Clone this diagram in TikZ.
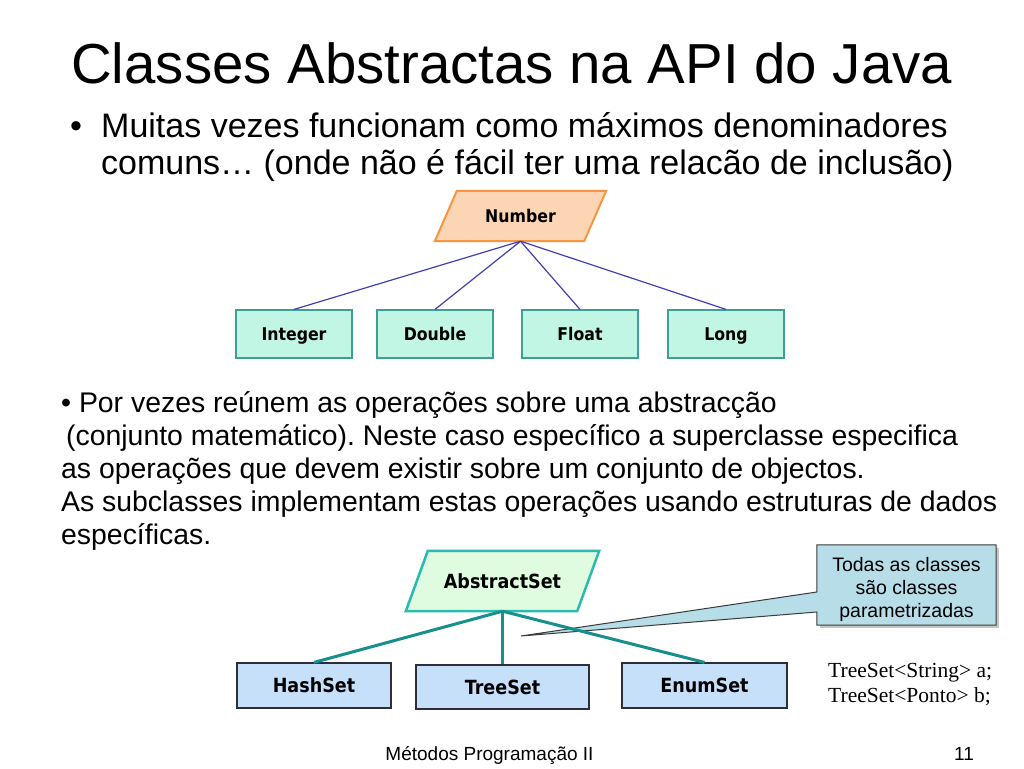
\documentclass[tikz,border=0pt]{standalone}
\usepackage{fontspec}
\setmainfont{Liberation Sans}
\newfontfamily\seriffont{Liberation Serif}
\newfontfamily\labfont{DejaVu Sans}[FakeStretch=0.9]
\usetikzlibrary{backgrounds,calc}
\definecolor{numfill}{HTML}{FCD5B4}
\definecolor{numdraw}{HTML}{F7963E}
\definecolor{topfill}{HTML}{C0F6E3}
\definecolor{topdraw}{HTML}{3CA096}
\definecolor{blueline}{HTML}{4040B4}
\definecolor{absfill}{HTML}{E0FCE0}
\definecolor{absdraw}{HTML}{2ABAB0}
\definecolor{tealline}{HTML}{178F8D}
\definecolor{botfill}{HTML}{C6E0FA}
\definecolor{botdraw}{HTML}{2E2E3A}
\definecolor{callfill}{HTML}{B7DDE8}
\definecolor{calldraw}{HTML}{3A3A3A}
\frenchspacing
\begin{document}
\begin{tikzpicture}[x=1pt,y=-1pt,
  txt/.style={inner sep=0pt, anchor=base west},
  ctxt/.style={inner sep=0pt, anchor=base},
  toplab/.style={font=\labfont\bfseries\fontsize{17.5}{20}\selectfont, text height=12.5pt, text depth=0pt},
  botlab/.style={font=\labfont\bfseries\fontsize{19.5}{22}\selectfont, text height=14pt, text depth=0pt},
  topbox/.style={draw=topdraw, fill=topfill, line width=1.2pt, minimum width=116pt, minimum height=48pt, inner sep=0pt, toplab},
  botbox/.style={draw=botdraw, fill=botfill, line width=1.2pt, minimum height=45pt, inner sep=0pt, botlab},
  paranode/.style={inner sep=0pt},
  numshape/.style={fill=numfill, draw=numdraw, line width=2pt, line join=miter},
  absshape/.style={fill=absfill, draw=absdraw, line width=2.5pt, line join=miter},
  numconn/.style={draw=blueline, line width=1.2pt},
  absconn/.style={draw=tealline, line width=3pt},
  callshape/.style={fill=callfill, draw=calldraw, line width=1pt, line join=miter},
  body/.style={font=\fontsize{28.4}{34}\selectfont},
  bodybig/.style={font=\fontsize{34}{37}\selectfont},
  calltxt/.style={font=\fontsize{19.5}{23}\selectfont},
  codetxt/.style={font=\seriffont\fontsize{21.5}{25}\selectfont},
  foot/.style={font=\fontsize{19}{22}\selectfont}
]
\useasboundingbox (0,0) rectangle (1024,768);
\begin{scope}[on background layer]
  \fill[white] (0,0) rectangle (1024,768);
\end{scope}

% title and text
\node[txt, font=\fontsize{56.4}{60}\selectfont] (title) at (71,83) {Classes Abstractas na API do Java};
\node[txt, bodybig] (b1dot) at (70,137) {•};
\node[txt, bodybig] (b1l1) at (101,137) {Muitas vezes funcionam como máximos denominadores};
\node[txt, bodybig] (b1l2) at (101,174) {comuns… (onde não é fácil ter uma relacão de inclusão)};

\node[txt, body] (p1) at (61,412) {• Por vezes reúnem as operações sobre uma abstracção};
\node[txt, body] (p2) at (66,445) {(conjunto matemático). Neste caso específico a superclasse especifica};
\node[txt, body] (p3) at (61,478) {as operações que devem existir sobre um conjunto de objectos.};
\node[txt, body] (p4) at (61,511) {As subclasses implementam estas operações usando estruturas de dados};
\node[txt, body] (p5) at (61,544) {específicas.};

% Number tree
\node[paranode, toplab, minimum width=149pt, minimum height=50pt] (num) at (520.5,216) {Number};
\begin{scope}[on background layer]
  \path[numshape] ($(num.north west)+(11,0)$) -- ($(num.north east)+(11,0)$) -- ($(num.south east)+(-11,0)$) -- ($(num.south west)+(-11,0)$) -- cycle;
\end{scope}
\node[topbox] (int) at (294,334) {Integer};
\node[topbox] (dbl) at (435,334) {Double};
\node[topbox] (flt) at (580,334) {Float};
\node[topbox] (lng) at (726,334) {Long};
\draw[numconn] (num.south) -- (int.north);
\draw[numconn] (num.south) -- (dbl.north);
\draw[numconn] (num.south) -- (flt.north);
\draw[numconn] (num.south) -- (lng.north);

% callout
\fill[gray!45] (820,548) rectangle (999,628);
\node[inner sep=0pt, minimum width=179pt, minimum height=80pt] (cbox) at (906.5,585) {};
\coordinate (tip) at (521,636);
\path[callshape] (cbox.north west) -- (cbox.north east) -- (cbox.south east) -- (cbox.south west) -- ($(cbox.west)+(0,27)$) -- (tip) -- ($(cbox.west)+(0,7)$) -- cycle;
\node[ctxt, calltxt] (c1) at (906.5,571) {Todas as classes};
\node[ctxt, calltxt] (c2) at (906.5,594) {são classes};
\node[ctxt, calltxt] (c3) at (906.5,617) {parametrizadas};

% AbstractSet tree
\node[paranode, minimum width=171pt, minimum height=60pt] (abs) at (502.5,581) {};
\path[absshape] ($(abs.north west)+(11,0)$) -- ($(abs.north east)+(11,0)$) -- ($(abs.south east)+(-11,0)$) -- ($(abs.south west)+(-11,0)$) -- cycle;
\node[paranode, botlab] (absl) at (abs.center) {AbstractSet};
\node[botbox, minimum width=154pt] (hash) at (314,685.5) {HashSet};
\node[botbox, minimum width=173pt, minimum height=44pt] (tree) at (502.5,687) {TreeSet};
\node[botbox, minimum width=165pt] (enum) at (704.5,685.5) {EnumSet};
\draw[absconn] (abs.south) -- (hash.north);
\draw[absconn] (abs.south) -- (tree.north);
\draw[absconn] (abs.south) -- (enum.north);

% code
\node[txt, codetxt] (code1) at (828,677) {TreeSet<String> a;};
\node[txt, codetxt] (code2) at (828,702) {TreeSet<Ponto> b;};

% footer
\node[ctxt, foot] (footer) at (489.5,760) {Métodos Programação II};
\node[ctxt, foot] (page) at (964,760) {11};
\end{tikzpicture}
\end{document}
